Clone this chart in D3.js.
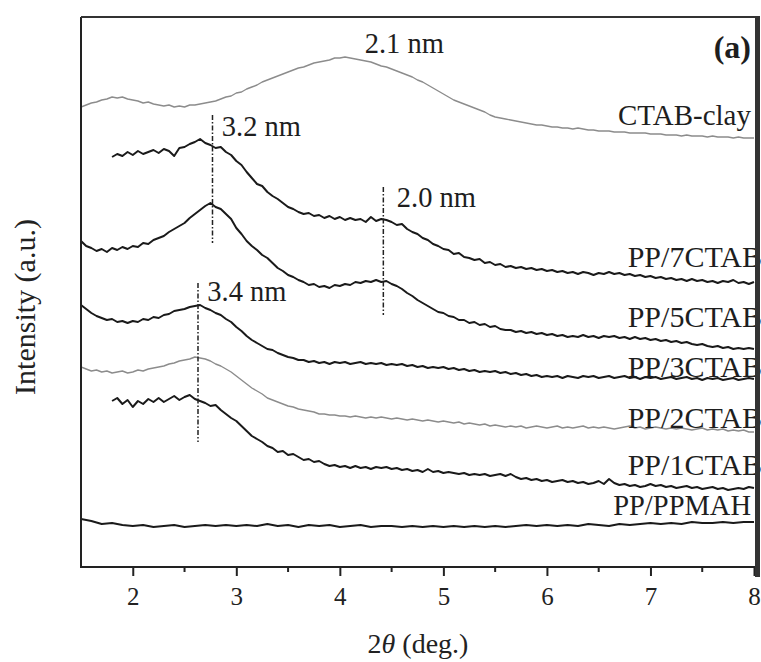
<!DOCTYPE html>
<html>
<head>
<meta charset="utf-8">
<script src="https://cdn.jsdelivr.net/npm/d3@7"></script>
<style>
  body { margin: 0; background: #fff; }
  text { font-family: "Liberation Serif", "Times New Roman", serif; }
</style>
</head>
<body>
<div id="chart"></div>
<script>
// XRD intensities (a.u.), one value per 2theta step
var ctabClay = [
  460,462,464,465,467,468,470,469,470,468, 467,466,464,465,463,462,461,462,460,461,
  460,462,462,463,464,465,466,468,470,471, 474,475,478,480,482,485,487,489,491,493,
  495,497,499,500,502,504,505,506,507,509, 509,510,509,508,507,506,505,503,501,500,
  498,496,494,492,490,487,485,482,479,476, 473,470,467,465,463,461,459,457,455,452,
  450,449,448,447,446,445,444,443,442,442, 441,440,440,439,439,438,439,438,437,437,
  436,436,436,435,435,435,434,434,434,434, 433,433,433,432,432,432,431,432,431,431,
  431,430,431,430,430,430,429,430,429,429, 429];
var pp7ctab = [
  410,413,411,415,412,416,413,415,417,414, 418,416,411,419,420,423,425,428,424,422,
  419,420,415,412,406,402,395,389,383,381, 375,371,368,364,360,358,355,353,354,351,
  352,349,351,348,350,347,349,347,348,345, 350,346,348,347,345,342,343,338,335,333,
  329,327,323,321,318,317,313,314,310,309, 307,308,304,305,302,303,300,301,299,300,
  298,299,297,298,296,297,295,296,294,295, 293,295,294,292,294,293,295,293,294,292,
  293,291,292,290,291,289,290,288,289,287, 288,286,288,286,287,285,286,284,286,285,
  287,284,285,283,285];
var pp5ctab = [
  326,321,319,316,318,315,319,317,320,318, 321,320,324,323,327,329,331,335,338,341,
  344,349,353,357,361,364,360,358,353,348, 339,333,326,321,317,312,309,304,299,296,
  292,290,287,285,282,283,280,281,279,282, 281,283,282,285,284,286,285,287,285,286,
  283,281,278,274,271,267,264,261,258,255, 254,251,250,247,247,244,245,242,243,240,
  241,238,237,237,235,236,234,235,233,234, 232,233,231,232,230,231,230,232,230,231,
  229,231,230,231,229,230,228,230,228,229, 227,228,226,227,225,226,224,225,223,222,
  223,221,220,221,219,220,218,219,218,219, 218];
var pp3ctab = [
  262,258,254,251,249,247,248,245,246,244, 246,245,248,247,250,249,252,253,256,257,
  258,260,261,262,259,257,254,252,248,245, 240,236,231,227,224,221,218,217,214,212,
  210,209,207,207,205,206,204,205,203,205, 204,205,203,204,205,203,204,203,204,202,
  203,202,203,201,202,200,201,199,200,199, 200,198,199,197,198,196,197,195,196,195,
  196,194,195,193,194,192,193,191,192,190, 191,190,191,189,191,190,189,191,190,191,
  189,190,191,189,190,191,189,190,188,190, 189,190,188,189,190,188,189,190,188,189,
  187,189,188,189,187,188,189,187,188,189, 188];
var pp2ctab = [
  200,198,196,197,195,196,194,195,196,194, 195,197,196,198,199,200,201,203,204,206,
  207,208,210,209,208,206,203,201,198,195, 191,187,183,179,176,173,169,167,165,163,
  161,160,158,157,156,155,153,153,152,152, 151,151,150,151,150,149,150,149,150,149,
  148,149,148,147,148,147,146,147,146,145, 146,145,144,145,143,144,143,142,143,141,
  142,141,140,141,140,141,139,140,141,140, 139,140,141,139,140,139,140,141,139,140,
  139,140,139,138,139,140,141,139,140,138, 139,140,139,138,139,138,139,138,137,138,
  139,137,138,137,138,136,137,136,137,135, 135];
var pp1ctab = [
  166,169,163,167,160,166,163,168,165,169, 165,168,171,167,170,172,168,166,164,161,
  162,157,153,149,146,141,136,131,128,125, 121,119,115,116,112,113,110,107,108,105,
  106,103,101,102,100,101,99,101,99,100, 98,100,99,100,98,99,97,98,96,97,
  95,98,95,96,94,95,94,93,94,92, 93,92,93,91,92,93,91,93,90,88,
  89,87,88,86,87,85,86,87,85,86, 84,85,83,84,86,83,88,84,82,83,
  81,82,80,81,83,81,82,80,81,79, 80,81,79,80,78,79,80,78,79,77,
  78,79,78,80,79];
var ppPpmah = [
  48,46,43,44,42,41,42,40,41,42, 40,41,42,41,42,41,42,41,43,41,
  42,40,42,41,42,40,41,42,40,41, 41,40,41,40,41,40,41,40,41,40,
  41,40,41,42,41,42,41,42,41,43, 42,41,43,42,43,44,43,44,43,45,
  44,44,45,44,45,45];

var seriesNames  = ["CTAB-clay", "PP/7CTAB", "PP/5CTAB", "PP/3CTAB", "PP/2CTAB", "PP/1CTAB", "PP/PPMAH"];
var seriesValues = [ctabClay, pp7ctab, pp5ctab, pp3ctab, pp2ctab, pp1ctab, ppPpmah];
var seriesStart  = [1.5, 1.8, 1.5, 1.5, 1.5, 1.8, 1.5];   // first 2theta of each scan
var seriesStep   = [0.05, 0.05, 0.05, 0.05, 0.05, 0.05, 0.1];
var labelLevel   = [442, 300, 240, 190, 139, 92, 52];      // intensity where the name sits

var xTicks = [2, 3, 4, 5, 6, 7, 8];
var xMinor = [2.5, 3.5, 4.5, 5.5, 6.5, 7.5];

// d-spacing annotations
var peakText  = ["2.1 nm", "3.2 nm", "2.0 nm", "3.4 nm"];
var peakTextX = [4.24, 2.86, 4.55, 2.72];
var peakTextY = [514, 431, 360, 266];
var markX     = [2.77, 4.42, 2.63];
var markTop   = [452, 380, 284];
var markBot   = [324, 252, 125];

var width = 761, height = 662;
var plotL = 81, plotT = 17, plotR = 754, plotB = 567, frameR = 757;

var svg = d3.select("#chart").append("svg")
  .attr("width", width)
  .attr("height", height);

var x = d3.scaleLinear().domain([1.5, 8]).range([plotL, plotR]);
var y = d3.scaleLinear().domain([0, 550]).range([plotB, plotT]);

svg.append("clipPath").attr("id", "plot-clip")
  .append("rect")
  .attr("x", plotL).attr("y", plotT)
  .attr("width", frameR - plotL).attr("height", plotB - plotT);

var line = d3.line()
  .x(function(d) { return x(d[0]); })
  .y(function(d) { return y(d[1]); });

var curves = svg.append("g").attr("clip-path", "url(#plot-clip)");
seriesValues.forEach(function(vals, k) {
  var pts = vals.map(function(v, i) { return [seriesStart[k] + i * seriesStep[k], v]; });
  var grey = (k == 0 || k == 4);
  curves.append("path")
    .attr("d", line(pts))
    .attr("fill", "none")
    .attr("stroke", grey ? "#8c8c8c" : "#1a1a1a")
    .attr("stroke-width", grey ? 1.4 : 2)
    .attr("stroke-linejoin", "round");
});

// dash-dot markers at the peaks
markX.forEach(function(m, i) {
  svg.append("line")
    .attr("x1", x(m)).attr("x2", x(m))
    .attr("y1", y(markTop[i])).attr("y2", y(markBot[i]))
    .attr("stroke", "#222")
    .attr("stroke-width", 1.5)
    .attr("stroke-dasharray", "5,2,1.5,2");
});

peakText.forEach(function(t, i) {
  svg.append("text")
    .attr("x", x(peakTextX[i]))
    .attr("y", y(peakTextY[i]))
    .attr("font-size", "28.5px")
    .attr("fill", "#1e1e1e")
    .text(t);
});

// series names, right aligned against the frame
var labelSize = [29, 30, 30, 30, 30, 30, 28.5];
seriesNames.forEach(function(n, k) {
  var cut = (k > 0 && k < 6);
  svg.append("text")
    .attr("x", cut ? 762 : 751)
    .attr("y", y(labelLevel[k]))
    .attr("text-anchor", "end")
    .attr("font-size", labelSize[k] + "px")
    .attr("fill", "#1e1e1e")
    .text(n);
});

svg.append("text")
  .attr("x", 751).attr("y", 58)
  .attr("text-anchor", "end")
  .attr("font-size", "32px")
  .attr("font-weight", "bold")
  .attr("fill", "#1e1e1e")
  .text("(a)");

// axes and frame
var xAxis = svg.append("g")
  .attr("transform", "translate(0," + plotB + ")")
  .call(d3.axisBottom(x).tickValues(xTicks).tickSize(9).tickSizeOuter(0)
    .tickPadding(11).tickFormat(d3.format("d")));
xAxis.select(".domain").remove();
xAxis.selectAll(".tick line").attr("stroke", "#222").attr("stroke-width", 2);
xAxis.selectAll(".tick text")
  .attr("font-family", "Liberation Serif, serif")
  .attr("font-size", "25px")
  .attr("fill", "#222");

svg.append("g").selectAll("line")
  .data(xMinor).enter().append("line")
  .attr("x1", function(d) { return x(d); })
  .attr("x2", function(d) { return x(d); })
  .attr("y1", plotB).attr("y2", plotB + 5)
  .attr("stroke", "#222").attr("stroke-width", 2);

svg.append("line")
  .attr("x1", plotL).attr("x2", frameR).attr("y1", plotB).attr("y2", plotB)
  .attr("stroke", "#222").attr("stroke-width", 2);
svg.append("line")
  .attr("x1", plotL).attr("x2", plotL).attr("y1", plotT).attr("y2", plotB + 1)
  .attr("stroke", "#222").attr("stroke-width", 2);
svg.append("line")
  .attr("x1", plotL).attr("x2", frameR).attr("y1", plotT).attr("y2", plotT)
  .attr("stroke", "#333").attr("stroke-width", 2);
svg.append("line")
  .attr("x1", frameR + 0.5).attr("x2", frameR + 0.5).attr("y1", plotT - 1).attr("y2", plotB + 10)
  .attr("stroke", "#333").attr("stroke-width", 5);

// axis titles
svg.append("text")
  .attr("x", 418).attr("y", 653)
  .attr("text-anchor", "middle")
  .attr("font-size", "28px")
  .attr("fill", "#222")
  .html('2<tspan font-style="italic">θ</tspan> (deg.)');

svg.append("text")
  .attr("transform", "translate(35,307) rotate(-90)")
  .attr("text-anchor", "middle")
  .attr("font-size", "30px")
  .attr("fill", "#222")
  .text("Intensity (a.u.)");
</script>
</body>
</html>
